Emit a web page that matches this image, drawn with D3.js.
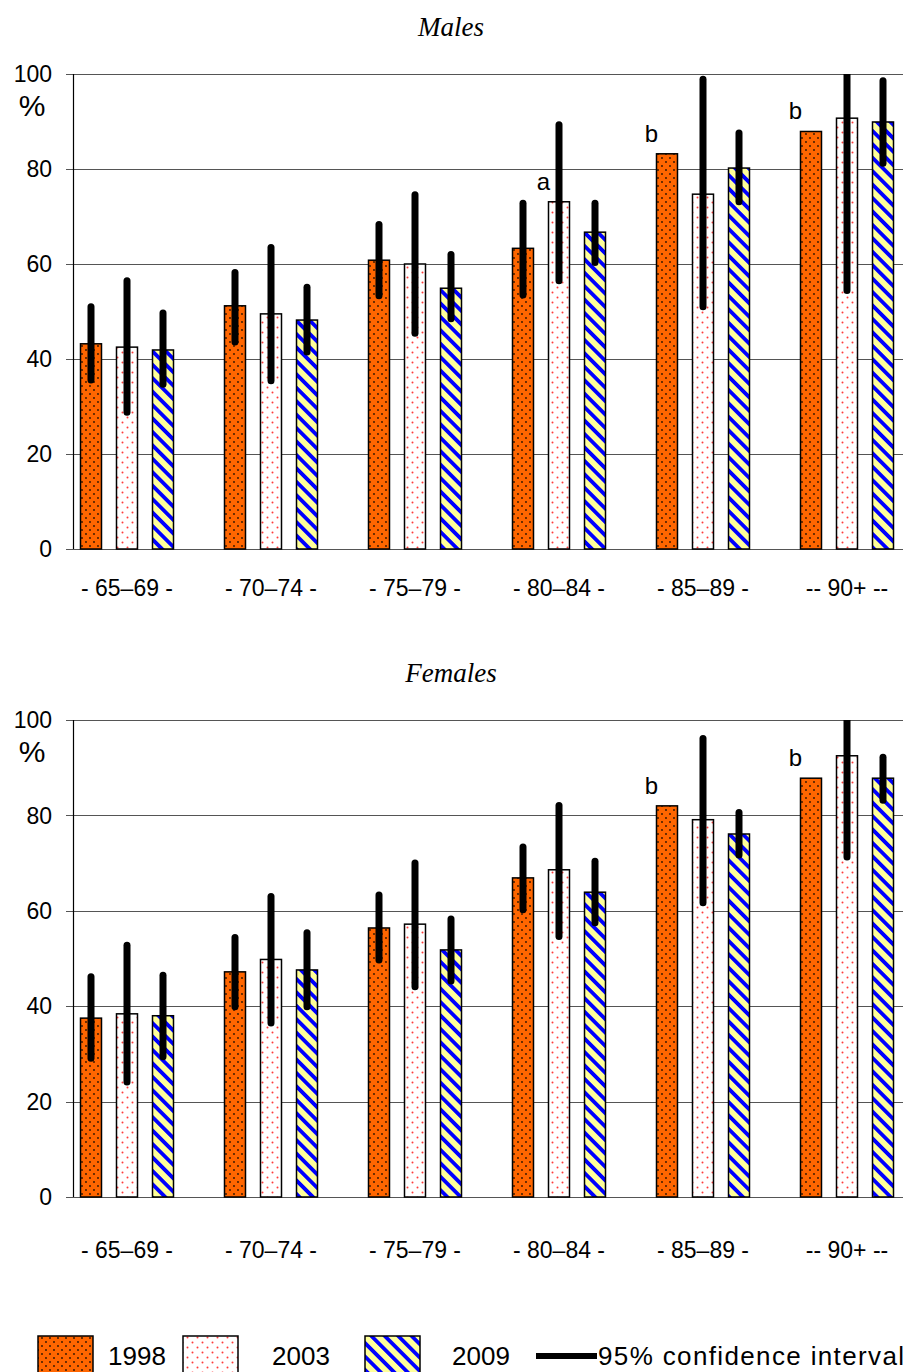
<!DOCTYPE html>
<html>
<head>
<meta charset="utf-8">
<script src="https://cdn.jsdelivr.net/npm/d3@7"></script>
<style>
  body { margin: 0; background: #fff; }
  svg { display: block; }
  .tick-label, .cat-label, .legend-text, .note { font-family: "Liberation Sans", Arial, sans-serif; fill: #000; }
  .panel-title { font-family: "Liberation Serif", "Times New Roman", serif; font-style: italic; }
</style>
</head>
<body>
<div id="chart"></div>
<script>
'use strict';

// categories and tick labels
const groups = ['- 65\u201369 -', '- 70\u201374 -', '- 75\u201379 -', '- 80\u201384 -', '- 85\u201389 -', '-- 90+ --'];
const years = ['1998', '2003', '2009'];
const yTicks = [0, 20, 40, 60, 80, 100];

// males, % per age group
const males1998 = [43.2, 51.2, 60.8, 63.3, 83.2, 87.9];
const males2003 = [42.5, 49.5, 60.0, 73.1, 74.7, 90.7];
const males2009 = [41.9, 48.2, 54.9, 66.7, 80.2, 89.9];
const malesLow1998  = [35.6, 43.6, 53.3, 53.5, null, null];
const malesHigh1998 = [51.0, 58.2, 68.3, 72.8, null, null];
const malesLow2003  = [28.8, 35.4, 45.4, 56.5, 51.0, 54.4];
const malesHigh2003 = [56.5, 63.5, 74.6, 89.3, 98.9, 100];
const malesLow2009  = [34.7, 41.5, 48.5, 60.3, 73.1, 81.2];
const malesHigh2009 = [49.7, 55.1, 62.0, 72.8, 87.6, 98.6];
const malesNotes = [
  {group: 3, year: '2003', text: 'a'},
  {group: 4, year: '1998', text: 'b'},
  {group: 5, year: '1998', text: 'b'}
];

// females, % per age group
const females1998 = [37.5, 47.2, 56.4, 66.9, 82.0, 87.8];
const females2003 = [38.4, 49.8, 57.2, 68.6, 79.1, 92.5];
const females2009 = [38.0, 47.6, 51.8, 63.9, 76.1, 87.8];
const femalesLow1998  = [29.1, 39.9, 49.7, 60.2, null, null];
const femalesHigh1998 = [46.2, 54.4, 63.3, 73.4, null, null];
const femalesLow2003  = [24.1, 36.5, 44.1, 54.6, 61.7, 71.3];
const femalesHigh2003 = [52.8, 63.0, 70.0, 82.1, 96.1, 100];
const femalesLow2009  = [29.4, 39.9, 45.3, 57.5, 71.7, 83.2];
const femalesHigh2009 = [46.5, 55.4, 58.3, 70.4, 80.6, 92.2];
const femalesNotes = [
  {group: 4, year: '1998', text: 'b'},
  {group: 5, year: '1998', text: 'b'}
];

const legendLabels = ['1998', '2003', '2009'];
const ciLabel = '95% confidence interval';

const W = 906, H = 1372;
const plotLeft = 73, plotRight = 903;

const svg = d3.select('#chart').append('svg')
  .attr('width', W)
  .attr('height', H);

const defs = svg.append('defs');

// 1998: orange with dark dots
let p = defs.append('pattern').attr('id', 'pat1998')
  .attr('patternUnits', 'userSpaceOnUse').attr('width', 8).attr('height', 8);
p.append('rect').attr('width', 8).attr('height', 8).attr('fill', '#ff6600');
p.append('circle').attr('cx', 2).attr('cy', 2).attr('r', 0.9).attr('fill', '#2a1200');
p.append('circle').attr('cx', 6).attr('cy', 6).attr('r', 0.9).attr('fill', '#2a1200');

// 2003: white with red dots
p = defs.append('pattern').attr('id', 'pat2003')
  .attr('patternUnits', 'userSpaceOnUse').attr('width', 10).attr('height', 10);
p.append('rect').attr('width', 10).attr('height', 10).attr('fill', '#ffffff');
p.append('circle').attr('cx', 2.5).attr('cy', 2.5).attr('r', 1).attr('fill', '#ff3b3b');
p.append('circle').attr('cx', 7.5).attr('cy', 7.5).attr('r', 1).attr('fill', '#ff3b3b');

// 2009: light yellow with blue diagonal stripes
p = defs.append('pattern').attr('id', 'pat2009')
  .attr('patternUnits', 'userSpaceOnUse').attr('width', 9.5).attr('height', 9.5)
  .attr('patternTransform', 'rotate(-45)');
p.append('rect').attr('width', 9.5).attr('height', 9.5).attr('fill', '#ffff99');
p.append('rect').attr('width', 3.8).attr('height', 9.5).attr('fill', '#0000ff');

const fills = {'1998': 'url(#pat1998)', '2003': 'url(#pat2003)', '2009': 'url(#pat2009)'};

// group positions: 144 px apart, bars 36 px apart
const x0 = d3.scaleBand().domain(groups).range([55, 919]);
const x1 = d3.scaleBand().domain(years).range([18, 126])
  .paddingInner(0.4167).paddingOuter(0.2083);

function drawPanel(top, bottom, title, titleY, series, lows, highs, notes, catY, clipId){
  const y = d3.scaleLinear().domain([0, 100]).range([bottom, top]);
  const g = svg.append('g');

  defs.append('clipPath').attr('id', clipId)
    .append('rect')
    .attr('x', plotLeft).attr('y', top)
    .attr('width', plotRight - plotLeft).attr('height', bottom - top);

  g.append('text')
    .attr('class', 'panel-title')
    .attr('x', 451).attr('y', titleY)
    .attr('text-anchor', 'middle')
    .attr('font-size', 27)
    .text(title);

  // grid lines
  g.selectAll('.grid').data(yTicks).enter().append('line')
    .attr('x1', plotLeft - 7).attr('x2', plotRight)
    .attr('y1', d => Math.round(y(d)) + 0.5).attr('y2', d => Math.round(y(d)) + 0.5)
    .attr('stroke', '#555').attr('stroke-width', 1.2);

  g.append('line')
    .attr('x1', plotLeft + 0.5).attr('x2', plotLeft + 0.5)
    .attr('y1', top).attr('y2', bottom)
    .attr('stroke', '#000').attr('stroke-width', 1.2);

  g.selectAll('.tick-label').data(yTicks).enter().append('text')
    .attr('class', 'tick-label')
    .attr('x', 52).attr('y', d => y(d))
    .attr('dy', '0.36em')
    .attr('text-anchor', 'end')
    .attr('font-size', 23)
    .text(d => d);

  g.append('text')
    .attr('class', 'tick-label')
    .attr('x', 32).attr('y', top + 31)
    .attr('dy', '0.36em')
    .attr('text-anchor', 'middle')
    .attr('font-size', 30)
    .text('%');

  const rows = [];
  years.forEach(function(yr, k){
    groups.forEach(function(gr, i){
      rows.push({group: gr, year: yr, v: series[k][i], lo: lows[k][i], hi: highs[k][i]});
    });
  });

  g.selectAll('.bar').data(rows).enter().append('rect')
    .attr('x', d => x0(d.group) + x1(d.year))
    .attr('y', d => y(d.v))
    .attr('width', x1.bandwidth())
    .attr('height', d => y(0) - y(d.v))
    .attr('fill', d => fills[d.year])
    .attr('stroke', '#000')
    .attr('stroke-width', 1.5);

  g.append('g').attr('clip-path', 'url(#' + clipId + ')')
    .selectAll('.ci').data(rows.filter(d => d.lo !== null)).enter().append('line')
    .attr('x1', d => x0(d.group) + x1(d.year) + x1.bandwidth() / 2)
    .attr('x2', d => x0(d.group) + x1(d.year) + x1.bandwidth() / 2)
    .attr('y1', d => y(d.lo))
    .attr('y2', d => y(d.hi))
    .attr('stroke', '#000')
    .attr('stroke-width', 7)
    .attr('stroke-linecap', 'round');

  g.selectAll('.note').data(notes).enter().append('text')
    .attr('class', 'note')
    .attr('x', d => x0(groups[d.group]) + x1(d.year) - 5)
    .attr('y', d => y(series[years.indexOf(d.year)][d.group]) - 12)
    .attr('text-anchor', 'middle')
    .attr('font-size', 24)
    .text(d => d.text);

  g.selectAll('.cat-label').data(groups).enter().append('text')
    .attr('class', 'cat-label')
    .attr('x', d => x0(d) + x0.bandwidth() / 2)
    .attr('y', catY)
    .attr('dy', '0.36em')
    .attr('text-anchor', 'middle')
    .attr('font-size', 23)
    .text(d => d);
}

drawPanel(74, 549, 'Males', 36,
  [males1998, males2003, males2009],
  [malesLow1998, malesLow2003, malesLow2009],
  [malesHigh1998, malesHigh2003, malesHigh2009],
  malesNotes, 588, 'clipM');

drawPanel(720, 1197, 'Females', 682,
  [females1998, females2003, females2009],
  [femalesLow1998, femalesLow2003, femalesLow2009],
  [femalesHigh1998, femalesHigh2003, femalesHigh2009],
  femalesNotes, 1250, 'clipF');

// legend
const legend = svg.append('g');
const boxX = [38, 183, 365];
const textX = [108, 272, 452];
legendLabels.forEach(function(lbl, i){
  legend.append('rect')
    .attr('x', boxX[i]).attr('y', 1336)
    .attr('width', 55).attr('height', 40)
    .attr('fill', fills[lbl])
    .attr('stroke', '#000').attr('stroke-width', 1.5);
  legend.append('text')
    .attr('class', 'legend-text')
    .attr('x', textX[i]).attr('y', 1365)
    .attr('font-size', 26)
    .text(lbl);
});
legend.append('line')
  .attr('x1', 536).attr('x2', 597)
  .attr('y1', 1356).attr('y2', 1356)
  .attr('stroke', '#000').attr('stroke-width', 6);
legend.append('text')
  .attr('class', 'legend-text')
  .attr('x', 598).attr('y', 1365)
  .attr('font-size', 26)
  .attr('textLength', 306)
  .text(ciLabel);
</script>
</body>
</html>
